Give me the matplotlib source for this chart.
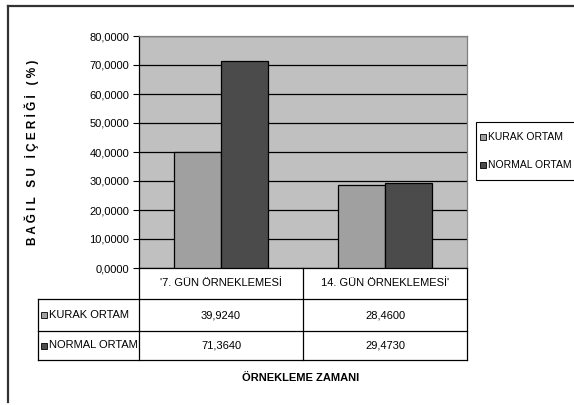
import numpy as np
from matplotlib import pyplot as plt
from matplotlib.lines import Line2D
from matplotlib.patches import Rectangle
from matplotlib import font_manager

# data
categories = ["'7. GÜN ÖRNEKLEMESİ", "14. GÜN ÖRNEKLEMESİ'"]
series_names = ['KURAK ORTAM', 'NORMAL ORTAM']
kurak = [39.9240, 28.4600]
normal = [71.3640, 29.4730]
series_values = [kurak, normal]
yticks = [0, 10, 20, 30, 40, 50, 60, 70, 80]

colors = ['#a0a0a0', '#4b4b4b']
fs = 8

fams = [f.name for f in font_manager.fontManager.ttflist]
narrow = 'Liberation Sans Narrow' if 'Liberation Sans Narrow' in fams else 'Liberation Sans'
plt.rcParams['font.family'] = [narrow, 'DejaVu Sans']
plt.rcParams['font.size'] = fs

W, H = 574, 405
fig = plt.figure(figsize=(W / 100, H / 100), dpi=100)


def fx(px):
    return px / W


def fy(py):
    return 1 - py / H


# outer chart border (top and left visible)
fig.add_artist(Line2D([fx(8), fx(8)], [fy(6), fy(402)], color='#333333', lw=1.6))
fig.add_artist(Line2D([fx(8), fx(574)], [fy(6), fy(6)], color='#333333', lw=1.6))

ax_l, ax_r, ax_t, ax_b = 139, 467, 36, 268
ax = fig.add_axes([fx(ax_l), fy(ax_b), (ax_r - ax_l) / W, (ax_b - ax_t) / H])
ax.set_facecolor('#c0c0c0')

x = np.arange(len(categories))
bw = 0.286
for i, (name, vals) in enumerate(zip(series_names, series_values)):
    ax.bar(x + (i - 0.5) * bw, vals, width=bw, color=colors[i],
           edgecolor='black', linewidth=0.9, label=name, zorder=3)

ax.set_xlim(-0.5, len(categories) - 0.5)
ax.set_ylim(0, 80)
ax.set_yticks(yticks)
ax.set_yticklabels(['{:.4f}'.format(v).replace('.', ',') for v in yticks], fontsize=fs)
ax.yaxis.grid(True, color='black', linewidth=0.9, zorder=1)
ax.set_axisbelow(True)
ax.set_xticks([])
ax.tick_params(axis='y', length=4, width=0.8, pad=3)
for s in ['top', 'right']:
    ax.spines[s].set_color('#808080')
    ax.spines[s].set_linewidth(0.9)
ax.spines['left'].set_linewidth(0.9)
ax.spines['bottom'].set_linewidth(0.9)

# data table below the axes
tr = ax.transAxes
ah = ax_b - ax_t
aw = ax_r - ax_l


def ay(py):
    return (ax_b - py) / ah


def axx(px):
    return (px - ax_l) / aw


rows = [268, 299, 331, 360]
tbl_left = 38
lk = dict(color='black', lw=0.9, transform=tr, clip_on=False)
# horizontal lines
ax.add_line(Line2D([axx(tbl_left), 1], [ay(rows[1])] * 2, **lk))
ax.add_line(Line2D([axx(tbl_left), 1], [ay(rows[2])] * 2, **lk))
ax.add_line(Line2D([axx(tbl_left), 1], [ay(rows[3])] * 2, **lk))
# vertical lines
ax.add_line(Line2D([0, 0], [ay(rows[0]), ay(rows[3])], **lk))
ax.add_line(Line2D([1, 1], [ay(rows[0]), ay(rows[3])], **lk))
ax.add_line(Line2D([axx(tbl_left)] * 2, [ay(rows[1]), ay(rows[3])], **lk))
for k in range(1, len(categories)):
    xd = k / len(categories)
    ax.add_line(Line2D([xd, xd], [ay(rows[0]), ay(rows[3])], **lk))

for k, cat in enumerate(categories):
    xc = (k + 0.5) / len(categories)
    ax.text(xc, ay((rows[0] + rows[1]) / 2), cat, transform=tr, ha='center',
            va='center', fontsize=fs)
    for i, vals in enumerate(series_values):
        ax.text(xc, ay((rows[i + 1] + rows[i + 2]) / 2),
                '{:.4f}'.format(vals[k]).replace('.', ','), transform=tr,
                ha='center', va='center', fontsize=fs)

for i, name in enumerate(series_names):
    yc = ay((rows[i + 1] + rows[i + 2]) / 2)
    ax.add_patch(Rectangle((axx(tbl_left + 3), yc - 3 / ah), 6 / aw, 6 / ah,
                           facecolor=colors[i], edgecolor='black', lw=0.6,
                           transform=tr, clip_on=False))
    ax.text(axx(tbl_left + 11), yc, name, transform=tr, ha='left', va='center',
            fontsize=fs)

ax.set_ylabel('B A Ğ I L   S U   İ Ç E R İ Ğ İ   ( % )', fontsize=8.5,
              fontweight='bold', labelpad=36)
fig.text(fx(301), fy(378), 'ÖRNEKLEME ZAMANI', ha='center', va='center',
         fontsize=fs, fontweight='bold')

# legend box to the right of the plot
lg_l, lg_t, lg_b = 476, 122, 180
fig.add_artist(Rectangle((fx(lg_l), fy(lg_b)), fx(110), (lg_b - lg_t) / H,
                         facecolor='white', edgecolor='black', lw=0.8))
lg_rows = [137, 165]
for i, name in enumerate(series_names):
    fig.add_artist(Rectangle((fx(lg_l + 4), fy(lg_rows[i] + 3)), fx(6), 6 / H,
                             facecolor=colors[i], edgecolor='black', lw=0.6))
    fig.text(fx(lg_l + 12), fy(lg_rows[i]), name, ha='left', va='center',
             fontsize=7.5)

fig.savefig('out.png', dpi=100)
